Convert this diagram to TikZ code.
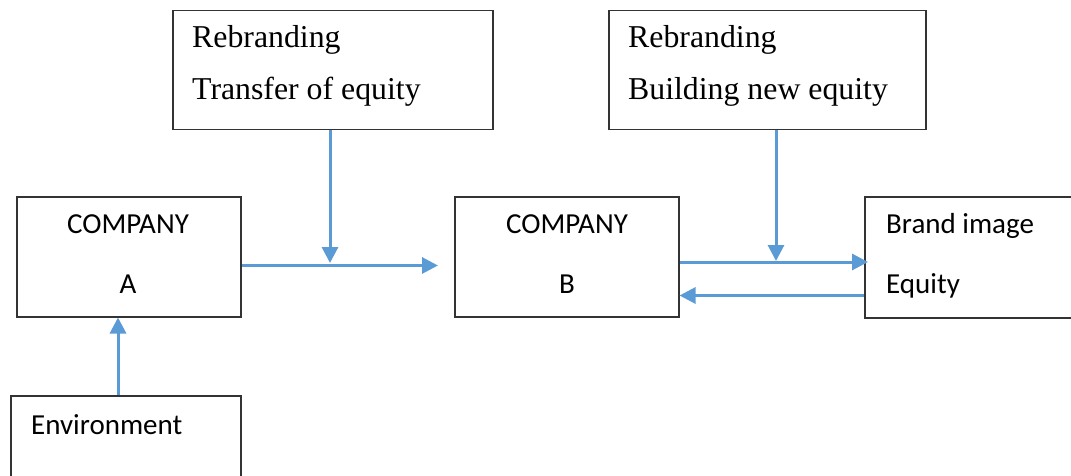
\documentclass[tikz,border=0pt]{standalone}
\usepackage{fontspec}
\setmainfont{Liberation Serif}
\newfontfamily\calib{Carlito}
\usetikzlibrary{arrows.meta}
\definecolor{arrblue}{HTML}{5B9BD5}
\definecolor{boxline}{HTML}{333333}
\tikzset{
  box/.style={draw=boxline, line width=1.5pt, anchor=north west, inner sep=0pt},
  serif/.style={font=\fontsize{31.8}{38}\selectfont, anchor=base west, inner sep=0pt},
  sans/.style={font=\calib\fontsize{29}{35}\selectfont, anchor=base, inner sep=0pt},
  sansl/.style={font=\calib\fontsize{29}{35}\selectfont, anchor=base west, inner sep=0pt},
  conn/.style={draw=arrblue, line width=3pt, -{Triangle[length=16pt,width=16pt]}},
}
\begin{document}
\begin{tikzpicture}[x=1pt,y=-1pt]
\clip (0,0) rectangle (1071,476);
% boxes
\node[box, minimum width=320pt, minimum height=119pt] (t1) at (172,10) {};
\node[box, minimum width=317pt, minimum height=119pt] (t2) at (608,10) {};
\node[box, minimum width=224pt, minimum height=120pt] (ca) at (16,196) {};
\node[box, minimum width=224pt, minimum height=120pt] (cb) at (454,196) {};
\node[box, minimum width=220pt, minimum height=121pt] (br) at (864,196) {};
\node[box, minimum width=230pt, minimum height=110pt] (env) at (10,395) {};
% texts
\node[serif] (t1a) at (192,48) {Rebranding};
\node[serif] (t1b) at (192,100) {Transfer of equity};
\node[serif] (t2a) at (628,48) {Rebranding};
\node[serif] (t2b) at (628,100) {Building new equity};
\node[sans] (caa) at (128,233) {COMPANY};
\node[sans] (cab) at (128,293) {A};
\node[sans] (cba) at (567,233) {COMPANY};
\node[sans] (cbb) at (567,293) {B};
\node[sansl] (bra) at (886,233) {Brand image};
\node[sansl] (brb) at (886,293) {Equity};
\node[sansl] (envt) at (31,434) {Environment};
% connector helper coordinates
\coordinate (ab) at (438,265.5);
\coordinate (j1) at (330,263);
\coordinate (j2) at (776,261);
\coordinate (brin) at (868,262);
% connectors
\draw[conn] (ca.east |- ab) -- (ab);
\draw[conn] (t1.south -| j1) -- (j1);
\draw[conn] (env.north -| 118,0) -- (118,317.5);
\draw[conn] (cb.east |- brin) -- (brin);
\draw[conn] (t2.south -| j2) -- (j2);
\draw[conn] (br.west |- 0,295.5) -- (cb.east |- 0,295.5);
\end{tikzpicture}
\end{document}
